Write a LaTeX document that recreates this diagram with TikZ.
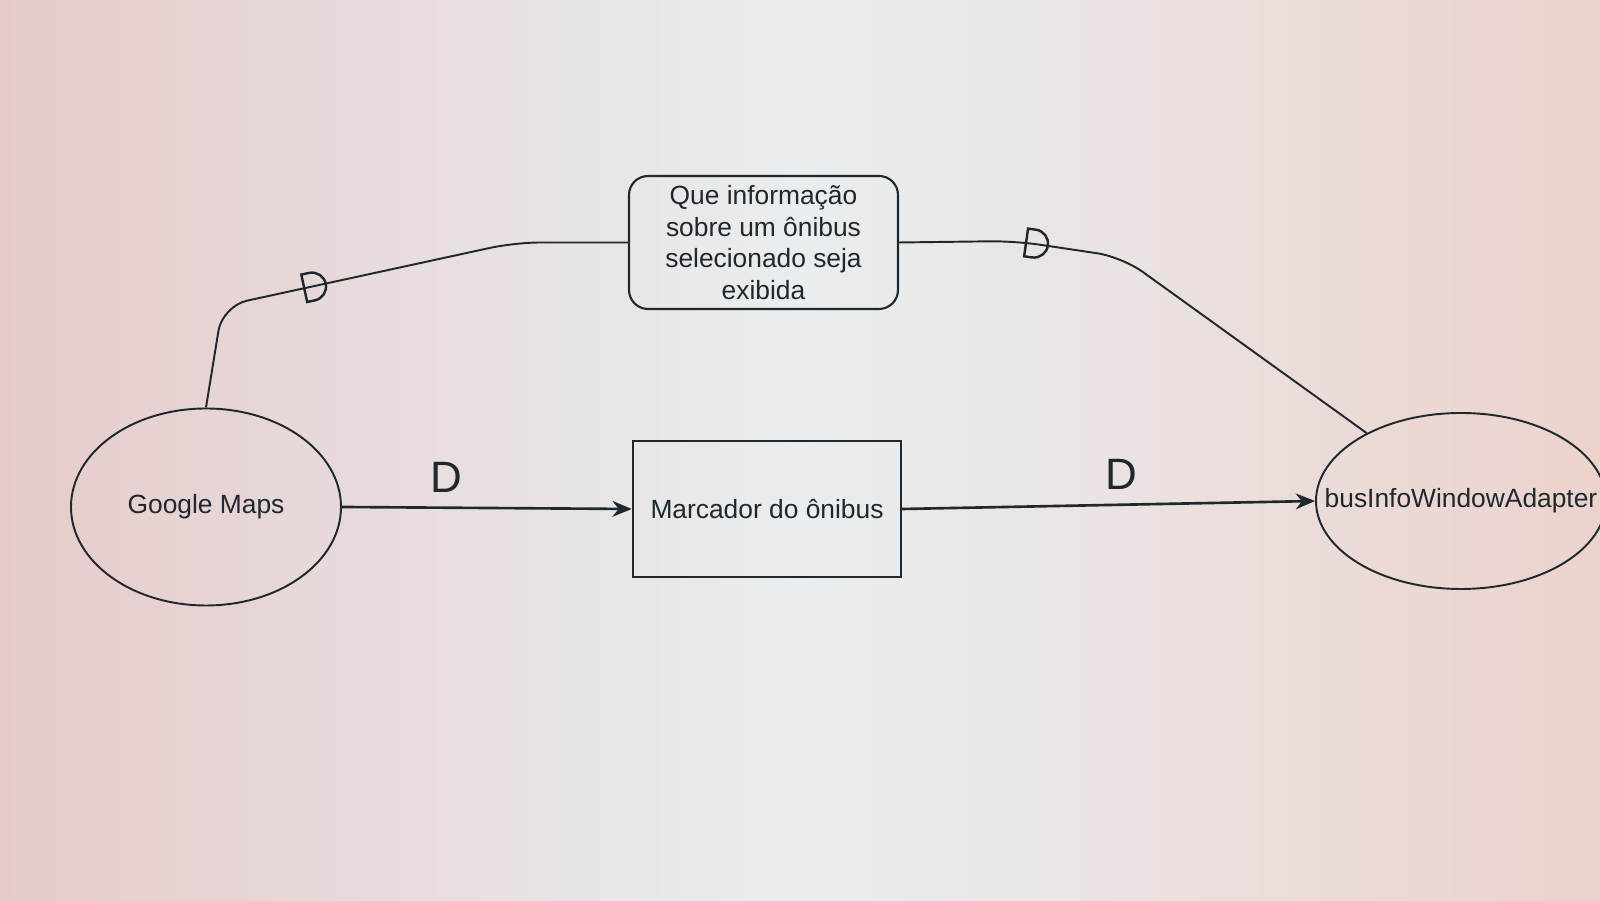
\documentclass[tikz,border=0pt]{standalone}
\usepackage{fontspec}
\setmainfont{Liberation Sans}
\usepackage{tikz}
\usetikzlibrary{arrows.meta}
\usetikzlibrary{shapes.geometric}
\definecolor{inkcolor}{HTML}{1E282D}
\definecolor{screenpink}{HTML}{E6CBCA}
\definecolor{screenwhite}{HTML}{E9EDEF}
\definecolor{screenrose}{HTML}{ECD2CC}
% the "D" mark of a dependency link
\tikzset{dmark/.pic={\draw[inkcolor,line width=1.4pt] (-0.22,-0.28) -- (-0.22,0.28) -- (-0.06,0.28) arc (90:-90:0.28) -- cycle;}}

\begin{document}
\begin{tikzpicture}[thick,
  nodetext/.style={text=inkcolor,font=\fontsize{15}{18}\selectfont},
  actor/.style={ellipse,draw=inkcolor,line width=1.1pt,inner sep=0pt,minimum width=5.4cm,minimum height=3.94cm,label={[nodetext]center:#1}},
  goalbox/.style={rectangle,rounded corners=0.38cm,draw=inkcolor,line width=1.2pt,nodetext,align=center,minimum width=5.38cm,minimum height=2.66cm},
  resbox/.style={rectangle,draw=inkcolor,line width=1.4pt,nodetext,minimum width=5.36cm,minimum height=2.72cm},
  dep/.style={draw=inkcolor,line width=1.5pt,-{Stealth[length=11pt,width=9pt]}},
  link/.style={draw=inkcolor,line width=1.1pt,rounded corners=0.5cm},
  dlabel/.style={text=inkcolor,font=\fontsize{25}{30}\selectfont,inner sep=0pt}]
  \useasboundingbox (0,0) rectangle (32,18.02);
  \clip (0,0) rectangle (32,18.02);
  \shade[left color=screenpink,right color=screenrose,middle color=screenwhite] (0,0) rectangle (32,18.02);

  \node[actor=Google Maps] (gm) at (4.12,7.88) {};
  \node[actor=busInfoWindowAdapter,minimum width=5.8cm,minimum height=3.52cm] (bi) at (29.22,8.0) {};
  \node[resbox] (mk) at (15.34,7.84) {Marcador do ônibus};
  \node[goalbox] (goal) at (15.27,13.17) {Que informação\\sobre um ônibus\\selecionado seja\\exibida};

  \draw[dep] (gm.east) -- node[dlabel,pos=0.36,above=8pt] {D} (mk.west);
  \draw[dep] (mk.east) -- node[dlabel,pos=0.53,above=8pt] {D} (bi.west);

  \draw[link] (gm.north) -- (4.45,11.9) -- (10.3,13.17) -- (goal.west);
  \pic[rotate=12] at (6.3,12.3) {dmark};
  \draw[link] (goal.east) -- (20.3,13.2) -- (22.44,12.88) -- (bi);
  \pic[rotate=-8] at (20.74,13.14) {dmark};
\end{tikzpicture}
\end{document}
